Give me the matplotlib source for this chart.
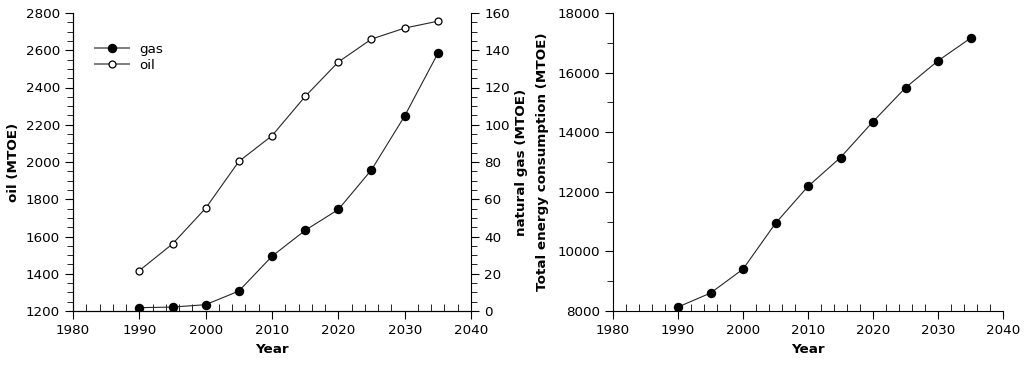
import matplotlib
matplotlib.use("Agg")
import matplotlib.pyplot as plt
from matplotlib.ticker import MultipleLocator

years = [1990, 1995, 2000, 2005, 2010, 2015, 2020, 2025, 2030, 2035]
oil = [1417, 1560, 1752, 2003, 2141, 2352, 2537, 2660, 2719, 2756]
gas = [1.8, 2.1, 3.4, 10.7, 29.4, 43.3, 54.5, 75.8, 104.7, 138.3]
total = [8134, 8602, 9405, 10943, 12181, 13151, 14355, 15492, 16396, 17154]

plt.rcParams['font.family'] = ['DejaVu Sans']
plt.rcParams['font.size'] = 9.7

fig = plt.figure(figsize=(10.26, 3.73), dpi=100)
ax1 = fig.add_axes([73/1026, 62/373, (471-73)/1026, (311-13)/373])
ax2 = ax1.twinx()
ax3 = fig.add_axes([613/1026, 62/373, (1003-613)/1026, (311-13)/373])

line_kw = dict(color='0.15', lw=0.8)
l_oil, = ax1.plot(years, oil, marker='o', ms=5, mfc='white', mec='black', mew=0.9, label='oil', **line_kw)
l_gas, = ax2.plot(years, gas, marker='o', ms=5.8, mfc='black', mec='black', label='gas', **line_kw)
ax3.plot(years, total, marker='o', ms=5.8, mfc='black', mec='black', **line_kw)

for ax in (ax1, ax2, ax3):
    ax.set_xlim(1980, 2040)
    ax.spines['top'].set_visible(False)
ax3.spines['right'].set_visible(False)
ax1.spines['right'].set_visible(False)

ax1.set_ylim(1200, 2800)
ax2.set_ylim(0, 160)
ax3.set_ylim(8000, 18000)

ax1.xaxis.set_major_locator(MultipleLocator(10))
ax1.xaxis.set_minor_locator(MultipleLocator(2))
ax3.xaxis.set_major_locator(MultipleLocator(10))
ax3.xaxis.set_minor_locator(MultipleLocator(2))
ax1.yaxis.set_major_locator(MultipleLocator(200))
ax1.yaxis.set_minor_locator(MultipleLocator(50))
ax2.yaxis.set_major_locator(MultipleLocator(20))
ax2.yaxis.set_minor_locator(MultipleLocator(5))
ax3.yaxis.set_major_locator(MultipleLocator(2000))
ax3.yaxis.set_minor_locator(MultipleLocator(1000))

for ax in (ax1, ax3):
    ax.tick_params(axis='x', which='major', direction='out', length=6, top=False)
    ax.tick_params(axis='x', which='minor', direction='in', length=5, top=False)
    ax.tick_params(axis='y', which='major', direction='out', length=6, right=False)
    ax.tick_params(axis='y', which='minor', direction='out', length=4, right=False)
ax2.tick_params(axis='y', which='major', direction='out', length=6)
ax2.tick_params(axis='y', which='minor', direction='out', length=4)

ax1.set_xlabel('Year', fontweight='bold')
ax3.set_xlabel('Year', fontweight='bold')
ax1.set_ylabel('oil (MTOE)', fontweight='bold')
ax2.set_ylabel('natural gas (MTOE)', fontweight='bold')
ax3.set_ylabel('Total energy consumption (MTOE)', fontweight='bold', labelpad=6)

leg = ax2.legend([l_gas, l_oil], ['gas', 'oil'], loc='upper left',
                 bbox_to_anchor=(0.025, 0.94), frameon=False,
                 handlelength=2.5, labelspacing=0.2)
for h in leg.get_lines():
    h.set_color('0.45')
    h.set_linewidth(1.3)

fig.savefig('out.png', dpi=100)
